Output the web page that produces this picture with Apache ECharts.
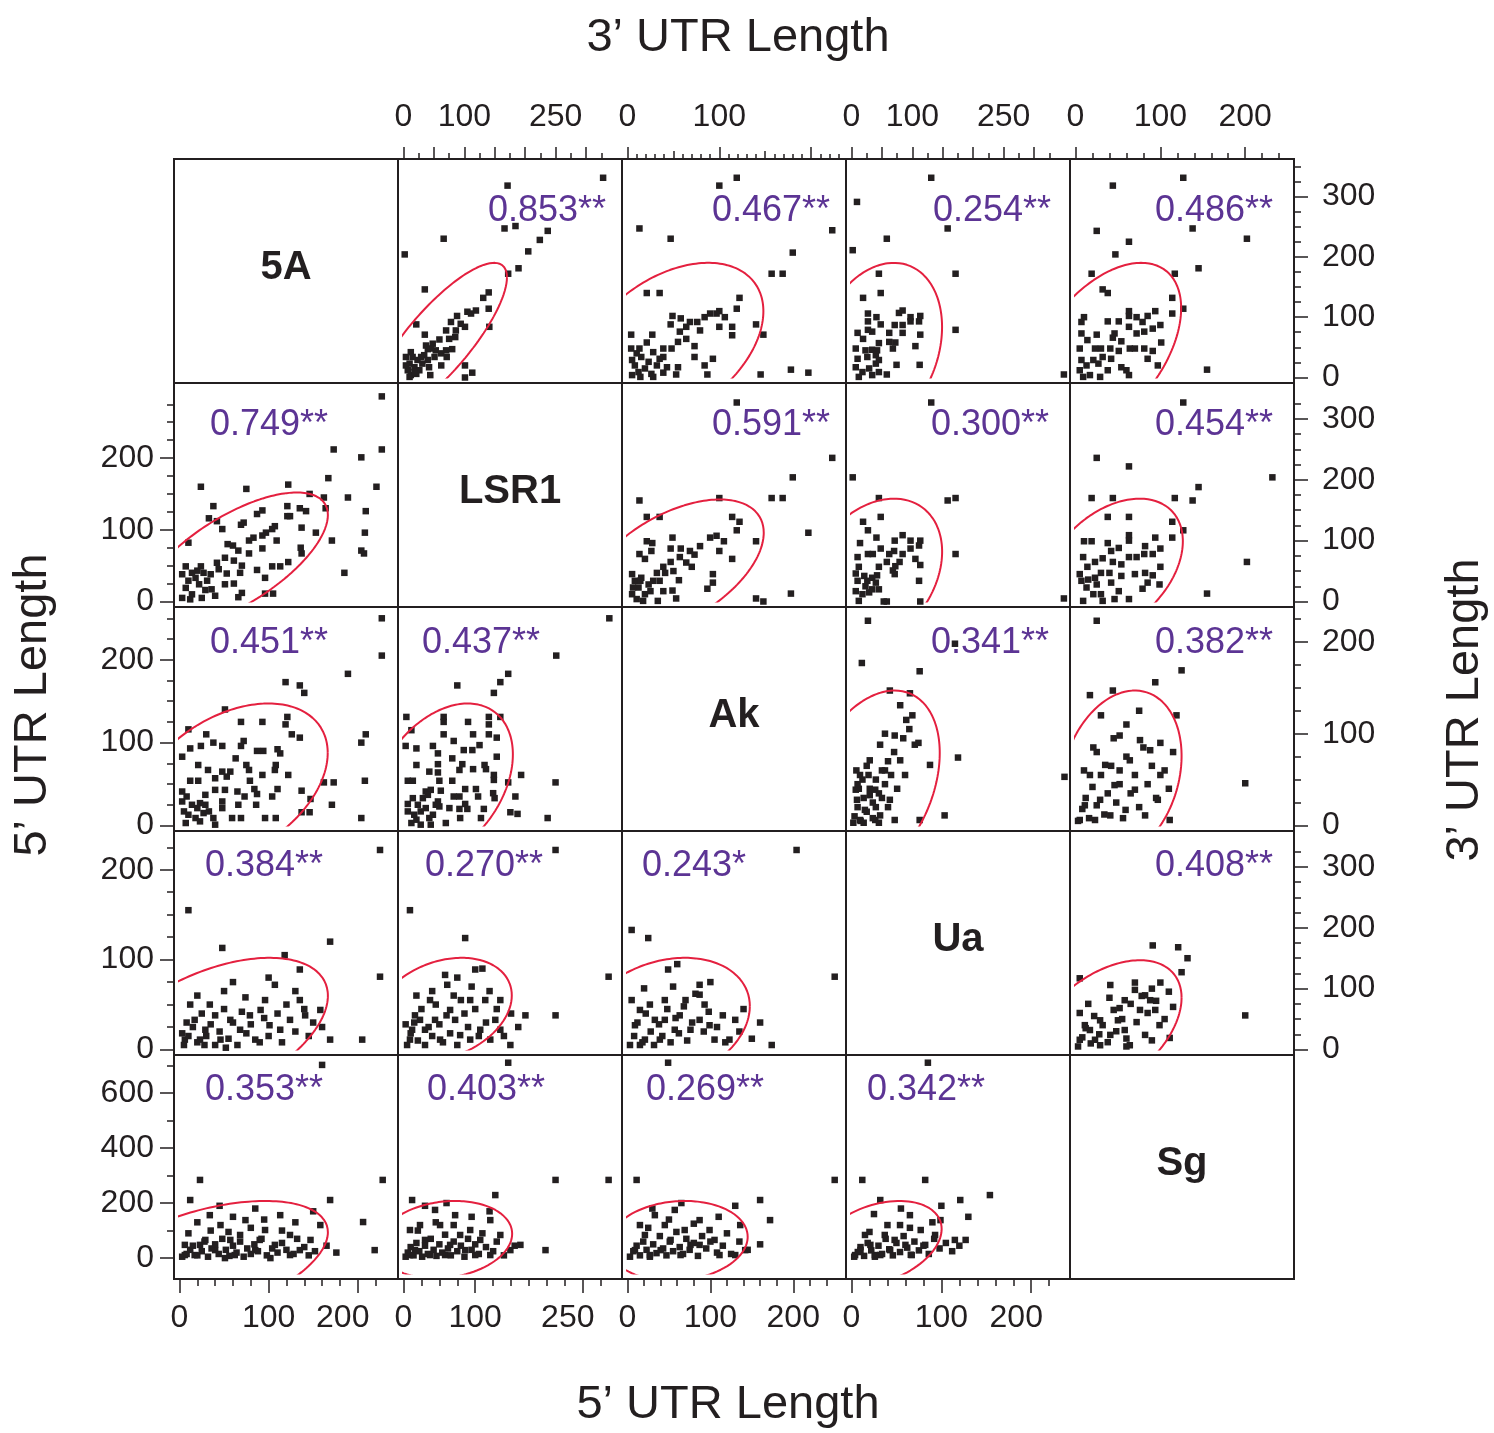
<!DOCTYPE html>
<html>
<head>
<meta charset="utf-8">
<script src="https://cdn.jsdelivr.net/npm/echarts@6/dist/echarts.min.js"></script>
<style>
html, body { margin: 0; background: #fff; }
#chart { width: 1494px; height: 1433px; }
</style>
</head>
<body>
<div id="chart"></div>
<script>
var names = ['5A', 'LSR1', 'Ak', 'Ua', 'Sg'];

// axis extent per variable (3' UTR and 5' UTR length)
var min3 = [0, 0, 0, 0, 0];
var max3 = [353, 350, 232, 350, 251];
var min5 = [0, 0, 0, 0, -56];
var max5 = [239, 297, 257, 237, 718];

// tick labels on the outer axes
var topLabels = { 1: [0, 100, 250], 2: [0, 100], 3: [0, 100, 250], 4: [0, 100, 200] };
var rightLabels = { 0: [0, 100, 200, 300], 1: [0, 100, 200, 300], 2: [0, 100, 200], 3: [0, 100, 200, 300] };
var bottomLabels = { 0: [0, 100, 200], 1: [0, 100, 250], 2: [0, 100, 200], 3: [0, 100, 200] };
var leftLabels = { 1: [0, 100, 200], 2: [0, 100, 200], 3: [0, 100, 200], 4: [0, 200, 400, 600] };

// upper triangle: x = 3' UTR of column gene, y = 3' UTR of row gene
var u3_LSR1_5A = [[328,331],[171,318],[166,247],[184,251],[237,243],[224,228],[205,209],[66,230],[2,204],[189,181],[172,172],[35,146],[140,141],[131,132],[140,114],[119,111],[105,109],[88,102],[101,84],[141,84],[78,92],[70,78],[21,88],[35,71],[59,63],[48,56],[40,47],[70,45],[80,47],[62,40],[71,34],[101,20],[113,8],[101,0],[44,4],[62,20],
  [7,12],[12,4],[18,17],[23,29],[29,34],[34,37],[10,23],[15,34],[21,6],[26,12],[31,23],[40,29],[42,17],[51,34],[53,45],[37,53],[45,48],[10,1],[4,34],[12,42],[75,64],[86,78],[94,89],[111,106],[85,67],[4,20],[18,9]];
var u3_Ak_5A = [[119,331],[100,318],[13,247],[47,230],[223,244],[180,207],[157,172],[169,172],[21,140],[35,140],[122,132],[119,114],[100,110],[97,106],[90,106],[106,100],[84,100],[49,102],[58,98],[47,88],[76,92],[68,92],[64,84],[79,78],[57,76],[100,84],[114,84],[114,70],[140,88],[148,71],[4,71],[27,71],[21,58],[55,59],[64,64],[73,52],[73,34],[93,31],[84,20],[87,5],[53,5],[145,5],[178,13],[197,8],[4,48],[13,48],[39,48],[48,48],[28,42],[39,34],
  [5,29],[8,20],[12,9],[15,34],[19,15],[23,26],[26,6],[32,20],[35,31],[43,17],[55,17],[5,4],[14,1],[28,1],[39,8],[10,40]];
var u3_Ua_5A = [[131,331],[9,291],[158,247],[58,230],[2,211],[45,172],[171,172],[48,140],[19,132],[171,79],[349,5],
  [27,106],[41,100],[27,93],[48,88],[27,79],[10,74],[34,76],[62,74],[71,87],[78,107],[84,111],[84,87],[84,74],[97,100],[97,93],[111,93],[113,102],[113,71],[19,64],[45,57],[62,59],[72,58],[68,48],[105,52],[7,48],[23,45],[34,46],[42,45],[10,31],[26,34],[40,37],[45,29],[74,21],[112,21],[58,5],[45,9],[7,17],[18,9],[29,15],[12,1],[34,4],[40,23]];
var u3_Sg_5A = [[127,331],[44,318],[25,243],[138,247],[202,230],[63,225],[47,204],[145,181],[117,172],[19,172],[32,146],[38,140],[114,132],[127,114],[114,106],[94,110],[155,13],
  [63,110],[63,102],[72,100],[85,102],[79,92],[51,93],[38,93],[7,92],[10,100],[63,84],[72,73],[81,76],[91,81],[100,87],[46,73],[44,66],[25,71],[7,73],[54,60],[14,62],[101,58],[64,48],[70,48],[81,48],[91,44],[51,44],[41,48],[30,48],[23,48],[5,48],[85,31],[42,31],[32,34],[54,17],[60,12],[97,20],[63,4],[38,12],[29,1],[5,12],[13,20],[21,29],[7,29],[17,4],[27,23],[9,1]];
var u3_Ak_LSR1 = [[119,327],[223,236],[180,204],[157,170],[169,170],[100,170],[13,166],[197,113],[21,139],[35,139],[114,139],[122,131],[119,117],[49,105],[90,105],[97,108],[105,99],[140,99],[21,99],[27,96],[26,83],[47,87],[58,87],[68,83],[79,91],[73,77],[100,83],[114,70],[13,78],[19,70],[57,73],[47,65],[64,64],[70,57],[39,57],[32,47],[41,47],[50,50],[56,35],[93,45],[93,31],[87,21],[49,18],[53,5],[33,1],[140,5],[148,0],[178,13],
  [5,45],[8,34],[12,23],[15,39],[19,12],[23,28],[28,34],[5,12],[10,4],[17,1],[25,17],[35,34],[39,17],[6,23],[14,34]];
var u3_Ua_LSR1 = [[131,327],[2,204],[45,170],[158,166],[171,170],[48,139],[19,131],[27,117],[171,78],[349,5],[41,105],[14,96],[71,100],[84,109],[97,100],[113,100],[111,92],[97,87],[48,87],[70,83],[84,78],[62,78],[27,78],[35,78],[10,73],[105,70],[58,65],[79,65],[45,57],[72,58],[113,60],[12,57],[68,51],[71,45],[111,34],[7,46],[21,42],[34,39],[42,43],[10,34],[26,34],[40,31],[45,20],[7,17],[18,12],[29,15],[12,1],[53,0],[58,0],[113,0],[23,25],[34,20]];
var u3_Sg_LSR1 = [[127,327],[25,236],[63,222],[232,204],[145,188],[19,170],[44,170],[117,170],[138,166],[38,139],[63,139],[114,131],[127,117],[114,105],[94,105],[63,109],[63,100],[202,65],[155,13],[10,99],[19,99],[38,96],[51,88],[82,91],[100,87],[91,78],[81,78],[63,73],[72,73],[42,83],[32,71],[23,65],[9,73],[44,65],[54,61],[100,57],[14,57],[30,47],[40,47],[54,42],[70,45],[82,47],[91,43],[85,31],[99,28],[79,21],[63,4],[51,17],[42,31],[30,12],[5,45],[7,34],[13,23],[21,12],[9,1],[15,36],[25,28],[32,1],[46,4],[23,39]];
var u3_Ua_Ak = [[27,223],[17,177],[112,168],[170,198],[175,74],[350,53],[63,147],[96,144],[80,131],[90,115],[71,98],[47,88],[30,71],[14,55],[39,39],[9,28],[22,17],[47,11],[71,6],[112,6],[153,11],[80,71],[104,88],[129,66],[55,60],[30,33],[63,28],[14,6],[7,39],[39,6],[88,55],
  [5,10],[10,20],[15,5],[20,30],[25,15],[30,40],[35,25],[40,50],[45,35],[50,60],[55,45],[60,70],[65,55],[70,80],[12,40],[18,50],[28,55],[8,60],[40,20],[50,30],[60,20],[75,40],[85,95],[95,105],[100,120],[110,90],[20,3],[35,8],[45,3],[3,3],[10,45],[25,65],[55,100]];
var u3_Sg_Ak = [[25,223],[125,169],[94,156],[44,147],[17,142],[119,120],[52,98],[21,85],[200,46],[76,93],[88,82],[64,71],[35,66],[17,55],[46,44],[70,39],[100,55],[29,28],[11,22],[59,17],[111,6],[5,6],[23,6],[82,11],[97,28],[52,60],[41,11],
  [3,5],[8,18],[12,30],[16,8],[20,42],[25,22],[30,55],[34,12],[38,35],[42,65],[48,25],[52,45],[56,8],[60,75],[65,35],[70,55],[75,20],[80,85],[85,45],[90,65],[95,30],[100,90],[105,60],[110,40],[115,80],[10,60],[25,80],[45,95],[60,110],[30,120],[75,125]];
var u3_Sg_Ua = [[91,171],[121,168],[132,150],[125,127],[200,56],[111,19],[5,117],[41,106],[70,98],[58,81],[82,89],[94,65],[76,65],[99,40],[50,48],[29,48],[11,40],[5,16],[23,16],[41,24],[58,32],[82,24],[17,32],[64,7],[29,7],[88,81],[52,68],
  [3,5],[8,20],[12,35],[18,10],[22,55],[28,25],[32,40],[38,12],[45,65],[48,30],[55,50],[60,18],[65,75],[72,45],[78,88],[85,60],[90,100],[95,80],[100,110],[105,50],[110,95],[70,110],[40,85],[15,75],[5,60],[60,5],[90,15],[115,70]];

// lower triangle: x = 5' UTR of column gene, y = 5' UTR of row gene
var u5_5A_LSR1 = [[227,286],[227,212],[173,212],[204,201],[167,172],[221,160],[24,160],[75,157],[122,163],[146,150],[162,145],[189,145],[38,133],[121,133],[135,130],[142,126],[164,130],[209,126],[93,127],[87,122],[121,119],[124,119],[33,116],[42,112],[69,107],[72,110],[48,101],[137,103],[107,105],[104,101],[97,96],[109,85],[93,92],[153,96],[208,96],[171,85],[136,75],[137,67],[204,71],[207,67],[10,82],[54,80],[60,78],[78,85],[83,89],[93,74],[78,67],[66,71],[122,55],[113,49],[104,49],[87,44],[96,33],[185,40],[7,49],[24,49],[42,54],[51,61],[61,57],[70,50],[35,38],[44,45],[53,39],[68,40],[51,24],[61,25],[70,12],[66,6],[96,11],[105,11],[29,16],
  [3,38],[7,19],[10,29],[14,10],[18,33],[22,24],[25,5],[12,3],[3,5],[31,29],[36,17],[40,8],[20,43],[27,40],[14,40]];
var u5_5A_Ak = [[227,250],[227,205],[189,183],[119,173],[135,169],[140,160],[51,140],[121,131],[119,122],[69,125],[93,125],[10,116],[30,110],[126,110],[135,106],[209,110],[204,100],[12,93],[24,96],[38,100],[48,96],[72,102],[69,96],[87,90],[94,90],[110,92],[113,87],[3,83],[63,81],[21,73],[32,67],[48,65],[57,65],[75,73],[78,67],[108,73],[107,67],[93,61],[122,61],[162,52],[173,52],[208,54],[12,54],[21,54],[40,57],[53,59],[79,54],[40,43],[51,43],[65,41],[84,44],[110,44],[137,42],[147,32],[171,25],[137,16],[146,16],[204,9],[104,35],[87,38],[73,35],[66,25],[86,25],[96,9],[108,9],[69,9],[59,9],[40,1],[38,9],[48,21],[29,25],
  [3,29],[8,35],[14,25],[20,21],[23,27],[5,17],[10,13],[18,9],[27,15],[7,3],[23,5],[33,17],[48,29],[3,41],[29,37]];
var u5_LSR1_Ak = [[287,250],[213,205],[146,183],[135,173],[75,169],[126,160],[4,131],[56,131],[56,125],[90,125],[119,131],[135,131],[119,122],[11,115],[56,110],[97,110],[119,110],[130,106],[70,102],[106,97],[84,91],[96,91],[3,96],[18,93],[41,96],[48,87],[68,81],[130,83],[18,73],[48,74],[82,74],[113,73],[97,68],[115,68],[36,65],[78,67],[126,61],[126,55],[164,61],[212,52],[146,52],[6,54],[13,54],[48,64],[50,54],[68,54],[31,41],[38,43],[52,42],[70,35],[78,35],[86,44],[101,44],[104,35],[125,39],[127,33],[156,35],[86,26],[89,20],[112,20],[78,20],[149,16],[159,14],[201,9],[108,9],[79,9],[59,3],[38,1],[24,1],[11,3],[64,21],[50,23],[48,29],
  [6,26],[13,33],[20,25],[27,33],[34,37],[6,17],[15,13],[24,17],[36,9],[45,25],[18,7],[31,21],[41,13]];
var u5_5A_Ua = [[225,222],[10,155],[48,113],[118,105],[169,120],[225,81],[205,11],[135,55],[124,33],[74,58],[91,44],[57,33],[34,50],[17,33],[6,11],[23,11],[46,11],[68,22],[101,27],[141,38],[158,44],[169,11],[107,72],[135,89],[85,11],[40,38],[79,38],[12,50],[29,22],[96,55],[113,22],
  [5,5],[10,15],[15,25],[20,8],[25,40],[30,15],[35,28],[40,5],[45,20],[50,45],[55,12],[60,30],[65,5],[70,42],[75,18],[80,28],[90,8],[95,35],[100,15],[110,40],[115,8],[120,50],[130,20],[145,15],[150,30],[160,25],[20,60],[50,65],[60,75],[100,80],[130,65],[140,45],[8,30],[3,18],[28,5],[52,2]];
var u5_LSR1_Ua = [[212,222],[9,155],[86,124],[286,81],[212,38],[170,38],[135,55],[100,89],[93,55],[58,83],[37,55],[16,38],[9,11],[30,22],[51,11],[72,33],[107,22],[128,33],[149,5],[80,55],[65,44],[23,33],[114,55],[121,11],[93,11],[44,33],[135,22],[79,16],[12,22],[61,72],
  [5,5],[10,18],[15,30],[20,10],[25,45],[30,5],[35,25],[40,15],[45,50],[50,28],[55,8],[60,38],[65,18],[70,60],[75,5],[85,40],[90,25],[95,70],[100,45],[105,15],[115,30],[120,65],[130,45],[140,15],[150,40],[3,28],[18,60],[40,65],[75,80],[110,90],[160,25]];
var u5_Ak_Ua = [[204,222],[5,133],[25,124],[49,89],[87,72],[87,61],[93,50],[130,33],[160,30],[174,5],[250,81],[15,44],[33,33],[45,55],[63,38],[76,22],[105,11],[21,11],[9,27],[39,11],[57,22],[99,27],[27,50],[70,55],[87,33],[123,11],[45,33],[15,5],
  [3,5],[8,15],[12,30],[18,8],[22,40],[28,20],[32,5],[38,28],[42,15],[48,45],[52,8],[58,35],[62,18],[68,48],[72,10],[78,30],[82,62],[92,20],[98,42],[108,25],[115,38],[118,8],[135,20],[140,45],[150,12],[5,55],[20,68],[55,70],[60,95],[100,75]];
var u5_5A_Sg = [[160,702],[228,284],[23,284],[12,211],[169,211],[206,131],[219,29],[147,66],[158,120],[124,84],[96,102],[68,84],[46,120],[29,66],[6,48],[17,11],[40,29],[62,11],[85,29],[107,48],[135,29],[74,138],[113,156],[34,156],[57,66],[90,66],[124,11],[6,11],[23,48],[51,0],[102,0],
  [3,5],[8,15],[12,30],[15,45],[20,10],[25,25],[28,60],[32,5],[36,35],[40,50],[44,15],[48,70],[52,30],[56,8],[60,45],[64,20],[68,60],[72,5],[76,35],[80,15],[84,50],[88,25],[92,70],[98,10],[104,35],[110,20],[115,55],[120,30],[128,15],[132,70],[140,40],[145,10],[152,25],[165,45],[176,20],[10,90],[35,100],[55,95],[80,110],[115,100],[20,130],[60,150],[95,140],[130,130],[45,190],[85,180],[150,170]];
var u5_LSR1_Sg = [[146,710],[212,284],[12,211],[9,102],[286,284],[198,29],[163,48],[128,229],[121,138],[93,102],[72,156],[51,120],[30,66],[16,29],[37,11],[65,48],[86,29],[107,66],[135,84],[149,29],[23,120],[44,175],[79,84],[58,11],[100,11],[9,11],[121,11],
  [3,5],[6,20],[10,40],[14,10],[18,55],[22,25],[26,5],[30,45],[34,15],[38,70],[42,30],[46,8],[50,50],[54,20],[58,85],[62,35],[66,10],[70,60],[75,25],[80,45],[85,5],[90,70],[95,30],[100,50],[105,15],[110,90],[115,40],[125,25],[130,60],[140,10],[155,45],[20,100],[45,130],[70,120],[95,150],[120,170],[30,190],[60,200]];
var u5_Ak_Sg = [[49,710],[11,284],[250,284],[160,211],[172,138],[136,120],[142,29],[130,11],[105,66],[87,138],[69,102],[52,66],[33,156],[21,84],[9,29],[40,29],[64,11],[87,48],[111,11],[27,11],[76,48],[99,102],[45,120],[15,120],[57,175],
  [3,5],[7,25],[11,45],[15,10],[19,60],[23,30],[27,5],[31,50],[35,18],[39,80],[43,35],[47,10],[51,60],[55,25],[59,95],[63,40],[67,15],[71,70],[75,30],[80,55],[85,8],[90,80],[95,35],[100,60],[108,20],[115,45],[120,90],[125,15],[135,60],[145,30],[160,50],[25,110],[50,140],[80,125],[110,150],[30,180],[65,200],[130,190]];
var u5_Ua_Sg = [[85,710],[12,284],[82,284],[154,229],[121,211],[32,211],[93,84],[115,66],[127,66],[99,138],[65,156],[54,120],[37,84],[21,48],[10,29],[26,11],[43,29],[60,48],[77,102],[48,66],[15,84],[32,11],[67,11],[4,11],[82,48],
  [3,5],[7,22],[10,40],[14,8],[18,55],[22,28],[26,5],[30,45],[34,15],[38,70],[42,32],[46,10],[50,55],[54,22],[58,80],[62,38],[66,12],[70,60],[75,28],[80,45],[86,15],[92,70],[98,35],[105,55],[112,25],[120,45],[20,95],[40,120],[65,110],[90,130],[25,160],[55,180],[100,190],[130,150]];

var panels = [
  [0, 1, u3_LSR1_5A], [0, 2, u3_Ak_5A], [0, 3, u3_Ua_5A], [0, 4, u3_Sg_5A],
  [1, 2, u3_Ak_LSR1], [1, 3, u3_Ua_LSR1], [1, 4, u3_Sg_LSR1],
  [2, 3, u3_Ua_Ak], [2, 4, u3_Sg_Ak], [3, 4, u3_Sg_Ua],
  [1, 0, u5_5A_LSR1], [2, 0, u5_5A_Ak], [2, 1, u5_LSR1_Ak],
  [3, 0, u5_5A_Ua], [3, 1, u5_LSR1_Ua], [3, 2, u5_Ak_Ua],
  [4, 0, u5_5A_Sg], [4, 1, u5_LSR1_Sg], [4, 2, u5_Ak_Sg], [4, 3, u5_Ua_Sg]
];

// correlation printed in each panel
var corrLabels = [
  [0, 1, '0.853**'], [0, 2, '0.467**'], [0, 3, '0.254**'], [0, 4, '0.486**'],
  [1, 2, '0.591**'], [1, 3, '0.300**'], [1, 4, '0.454**'],
  [2, 3, '0.341**'], [2, 4, '0.382**'], [3, 4, '0.408**'],
  [1, 0, '0.749**'], [2, 0, '0.451**'], [2, 1, '0.437**'],
  [3, 0, '0.384**'], [3, 1, '0.270**'], [3, 2, '0.243*'],
  [4, 0, '0.353**'], [4, 1, '0.403**'], [4, 2, '0.269**'], [4, 3, '0.342**']
];

// density ellipses: row, col, mean x, mean y, half extent x, half extent y, correlation
var ellipses = [
  [0, 1, 56.5, 59.8, 113.5, 130.2, 0.815], [0, 2, 46, 54, 102, 136, 0.41],
  [0, 3, 42.8, 47.5, 106, 142.5, 0.254], [0, 4, 33.1, 43.8, 91.4, 146.2, 0.486],
  [1, 2, 49.6, 55, 98.8, 112.6, 0.515], [1, 3, 35.9, 44.6, 113, 124.4, 0.3],
  [1, 4, 42.9, 54.5, 83.6, 114.5, 0.39], [2, 3, 32.7, 43.8, 112.3, 103.2, 0.341],
  [2, 4, 53.5, 54.5, 71.5, 92.5, 0.23], [3, 4, 34.3, 32.8, 90.7, 113.9, 0.46],
  [1, 0, 61, 56.9, 105.5, 95.1, 0.67], [2, 0, 57.3, 49.5, 109, 97.7, 0.39],
  [2, 1, 54.2, 51.2, 98.3, 96, 0.36], [3, 0, 35.5, 17.5, 131, 84.5, 0.5],
  [3, 1, 55.1, 44.7, 95.9, 57.3, 0.27], [3, 2, 44.2, 31, 103.4, 71, 0.243],
  [4, 0, 25.5, -20.2, 141, 227.8, 0.5], [4, 1, 57.9, 67.2, 93.6, 140.4, 0.15],
  [4, 2, 60.9, 62.7, 84.1, 144.9, 0.1], [4, 3, 29.2, 53, 71.1, 154.6, 0.342]
];

// ---- layout ----
var ink = '#231f20', red = '#e4203f', purple = '#5c3494';
var font = 'Liberation Sans, Arial, Helvetica, sans-serif';
var frameLeft = 174, frameTop = 159, cellSize = 224, inset = 5.5;
var corrPos = {
  '0,1': [149, 52], '0,2': [149, 52], '0,3': [146, 52], '0,4': [144, 52],
  '1,2': [149, 42], '1,3': [144, 42], '1,4': [144, 42],
  '2,3': [144, 36], '2,4': [144, 36], '3,4': [144, 35],
  '1,0': [95, 42], '2,0': [95, 36], '2,1': [83, 36],
  '3,0': [90, 35], '3,1': [86, 35], '3,2': [72, 35],
  '4,0': [90, 35], '4,1': [88, 35], '4,2': [83, 35], '4,3': [80, 35]
};
// tick layers [step, length] on each outer side
var topTicks = { 1: [[25, 6], [50, 12]], 2: [[10, 5], [50, 8], [100, 12]], 3: [[25, 6], [50, 12]], 4: [[20, 6], [100, 12]] };
var rightTicks = { 0: [[25, 7]], 1: [[25, 7]], 2: [[25, 7]], 3: [[25, 7]] };
var bottomTicks = { 0: [[20, 7]], 1: [[25, 7]], 2: [[20, 7]], 3: [[20, 7]] };
var leftTicks = { 1: [[25, 7]], 2: [[25, 7]], 3: [[25, 7]], 4: [[100, 7]] };
var bottomShift = { 0: [200], 1: [250], 3: [200] };

function cellX(c) { return frameLeft + c * cellSize; }
function cellY(r) { return frameTop + r * cellSize; }

function multiples(step, lo, hi) {
  var out = [];
  for (var v = Math.ceil(lo / step) * step; v < hi - 1; v += step) out.push(v);
  return out;
}

function baseAxis(g, lo, hi, pos) {
  return {
    type: 'value', gridIndex: g, min: lo, max: hi, position: pos, offset: inset,
    axisLine: { show: false, onZero: false }, splitLine: { show: false },
    axisTick: { show: false }, axisLabel: { show: false }
  };
}

var tickLine = { color: ink, width: 1.5 };

function addOuter(list, g, lo, hi, pos, layers, labels, longLen, margin, shifted) {
  layers.forEach(function (ly) {
    var a = baseAxis(g, lo, hi, pos);
    a.axisTick = { show: true, length: ly[1], customValues: multiples(ly[0], lo, hi), lineStyle: tickLine };
    list.push(a);
  });
  var a = baseAxis(g, lo, hi, pos);
  a.axisTick = { show: true, length: longLen, customValues: labels, lineStyle: tickLine };
  a.axisLabel = {
    show: true, customValues: labels, margin: margin,
    fontSize: 32, fontFamily: font, color: ink,
    formatter: function (v) {
      return shifted && shifted.indexOf(v) >= 0 ? '{sh|' + v + '}' : String(v);
    },
    rich: { sh: { padding: [0, 30, 0, 0], fontSize: 32, fontFamily: font, color: ink } }
  };
  list.push(a);
}

function ellipsePoints(e) {
  var mx = e[2], my = e[3], a = e[4], b = e[5], rho = e[6];
  var s = Math.sqrt(1 - rho * rho), out = [];
  for (var i = 0; i <= 200; i++) {
    var t = i / 200 * 2 * Math.PI;
    out.push([mx + a * Math.cos(t), my + b * (rho * Math.cos(t) + s * Math.sin(t))]);
  }
  return out;
}

var grids = [], xAxes = [], yAxes = [], series = [], graphics = [];

panels.forEach(function (p, g) {
  var r = p[0], c = p[1], upper = c > r;
  grids.push({
    left: cellX(c) + inset, top: cellY(r) + inset,
    width: cellSize - 2 * inset, height: cellSize - 2 * inset,
    outerBoundsMode: 'none'
  });
  var xlo = upper ? min3[c] : min5[c], xhi = upper ? max3[c] : max5[c];
  var ylo = upper ? min3[r] : min5[r], yhi = upper ? max3[r] : max5[r];
  var xi = xAxes.length, yi = yAxes.length;
  xAxes.push(baseAxis(g, xlo, xhi, upper ? 'top' : 'bottom'));
  yAxes.push(baseAxis(g, ylo, yhi, upper ? 'right' : 'left'));

  if (upper && r === 0) addOuter(xAxes, g, xlo, xhi, 'top', topTicks[c], topLabels[c], 12, 26, null);
  if (upper && c === 4) addOuter(yAxes, g, ylo, yhi, 'right', rightTicks[r], rightLabels[r], 14, 28, null);
  if (!upper && r === 4) addOuter(xAxes, g, xlo, xhi, 'bottom', bottomTicks[c], bottomLabels[c], 14, 23, bottomShift[c]);
  if (!upper && c === 0) addOuter(yAxes, g, ylo, yhi, 'left', leftTicks[r], leftLabels[r], 14, 20, null);

  series.push({
    type: 'scatter', xAxisIndex: xi, yAxisIndex: yi, data: p[2],
    symbol: 'rect', symbolSize: 6.5, itemStyle: { color: ink, opacity: 1 }, silent: true, z: 2
  });
  var e = ellipses.filter(function (q) { return q[0] === r && q[1] === c; })[0];
  series.push({
    type: 'line', xAxisIndex: xi, yAxisIndex: yi, data: ellipsePoints(e),
    showSymbol: false, symbol: 'none', clip: true, silent: true,
    lineStyle: { color: red, width: 2 }, z: 3
  });
});

// cell frames
for (var r = 0; r < 5; r++) {
  for (var c = 0; c < 5; c++) {
    graphics.push({
      type: 'rect', shape: { x: cellX(c), y: cellY(r), width: cellSize, height: cellSize },
      style: { fill: 'none', stroke: ink, lineWidth: 2 }, z: 10
    });
  }
}

// gene names on the diagonal
names.forEach(function (n, i) {
  graphics.push({
    type: 'text', x: cellX(i) + cellSize / 2, y: cellY(i) + cellSize / 2 - 3,
    style: { text: n, fill: ink, font: 'bold 40px ' + font, align: 'center', verticalAlign: 'middle', textAlign: 'center', textVerticalAlign: 'middle' },
    z: 11
  });
});

// correlation coefficients
corrLabels.forEach(function (q) {
  var pos = corrPos[q[0] + ',' + q[1]];
  graphics.push({
    type: 'text', x: cellX(q[1]) + pos[0], y: cellY(q[0]) + pos[1],
    style: { text: q[2], fill: purple, font: '36px ' + font, align: 'center', verticalAlign: 'middle', textAlign: 'center', textVerticalAlign: 'middle' },
    z: 11
  });
});

// axis titles
var titleFont = '47px ' + font;
[
  { text: '3\u2019 UTR Length', x: 738, y: 38, rot: 0 },
  { text: '5\u2019 UTR Length', x: 728, y: 1405, rot: 0 },
  { text: '5\u2019 UTR Length', x: 33, y: 705, rot: Math.PI / 2 },
  { text: '3\u2019 UTR Length', x: 1465, y: 710, rot: Math.PI / 2 }
].forEach(function (t) {
  graphics.push({
    type: 'text', x: t.x, y: t.y, rotation: t.rot,
    style: { text: t.text, fill: ink, font: titleFont, align: 'center', verticalAlign: 'middle', textAlign: 'center', textVerticalAlign: 'middle' },
    z: 11
  });
});

var myChart = echarts.init(document.getElementById('chart'));
myChart.setOption({
  animation: false,
  backgroundColor: '#ffffff',
  textStyle: { fontFamily: font },
  grid: grids,
  xAxis: xAxes,
  yAxis: yAxes,
  series: series,
  graphic: { elements: graphics }
});
</script>
</body>
</html>
